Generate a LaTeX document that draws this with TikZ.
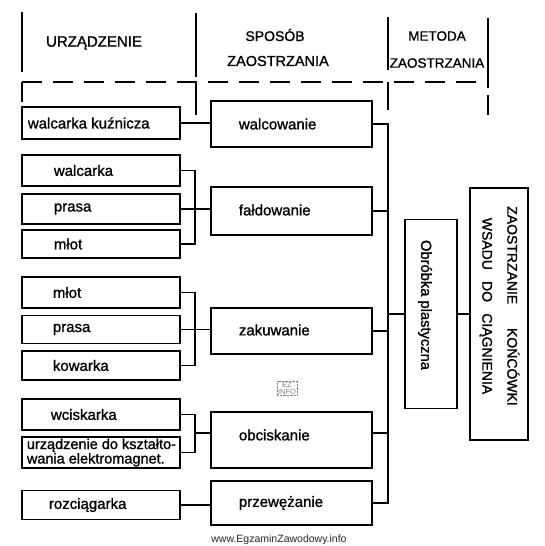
\documentclass[tikz,border=0pt]{standalone}
\usepackage{fontspec}
\setmainfont{Liberation Sans}[FakeBold=1.2]
\newfontfamily\wmfont{Liberation Sans}

\tikzset{
  devbox/.style={draw, minimum width=158pt, inner sep=0pt},
  waybox/.style={draw, minimum width=161pt, inner sep=0pt},
  lbl/.style={anchor=west, inner sep=0pt, align=left, font=\fontsize{15}{14.5}\selectfont},
  hdr/.style={inner sep=0pt, font=\fontsize{14.5}{15}\selectfont},
}

\begin{document}
\begin{tikzpicture}[x=1pt, y=-1pt, line width=1.8pt]

    % Page size of the reference (one unit == one pixel, y grows downwards)
    \useasboundingbox (0,0) rectangle (544,546);

    % Bus x position (where all the ways meet)
    \pgfmathsetmacro{\busx}{388}

    % Draw the header rules
    \foreach \x/\ya/\yb in {22/12/72, 196/13/77, 388/17/70, 488/18/88}{
      \draw (\x,\ya) -- (\x,\yb);
    }
    \draw[dash pattern=on 20pt off 11pt] (22,82) -- (488,82);
    \foreach \x/\ya/\yb in {22/82/102, 196/82/115, 388/82/110, 488/95/115}{
      \draw (\x,\ya) -- (\x,\yb);
    }

    % Write the header texts
    \node[hdr, font=\fontsize{15}{15}\selectfont] (hdev) at (94,43) {URZĄDZENIE};
    \node[hdr, font=\fontsize{14}{15}\selectfont] (hway) at (275,35) {SPOSÓB};
    \node[hdr] (hway2) at (278,61) {ZAOSTRZANIA};
    \node[hdr, font=\fontsize{13.5}{15}\selectfont] (hmeth) at (437,36) {METODA};
    \node[hdr, font=\fontsize{13.5}{15}\selectfont] (hmeth2) at (437,63) {ZAOSTRZANIA};

    % Draw the devices (left column)
    \foreach \n/\yc/\h/\tx/\txt in {1/123/32/27/walcarka kuźnicza,
        2/170.5/31/53/walcarka, 3/209/30/53/prasa, 4/244/28/53/młot,
        5/292.5/31/52/młot, 6/329.5/28/52/prasa, 7/365.5/29/52/kowarka,
        8/414.5/31/50/wciskarka, 10/505/29/48/rozciągarka}{
      \node[devbox, minimum height=\h pt] (dev\n) at (101,\yc) {};
      \node[lbl] (devt\n) at (\tx,\yc) {\txt};
    }
    % The two-line device
    \node[devbox, minimum height=31pt] (dev9) at (101,452.5) {};
    \node[lbl, font=\fontsize{14.5}{14.5}\selectfont] (devt9) at (26,452.5)
      {urządzenie do kształto-\\wania elektromagnet.};

    % Draw the ways of sharpening (middle column)
    \foreach \n/\yc/\h/\ty/\txt in {1/124/46/124/walcowanie,
        2/211/48/210/fałdowanie, 3/331/46/330/zakuwanie,
        4/440/56/435/obciskanie, 5/503/44/503/przewężanie}{
      \node[waybox, minimum height=\h pt] (way\n) at (291.5,\yc) {};
      \node[lbl] (wayt\n) at (238,\ty) {\txt};
    }

    % Connect the devices to their ways
    \draw (dev1.east) -- (dev1.east -| way1.west);
    \draw (dev2.east) -- ++(14,0) |- (dev4.east);
    \draw (dev3.east) -- (dev3.east -| way2.west);
    \draw (dev5.east) -- ++(14,0) |- (dev7.east);
    \draw (dev6.east) -- (dev6.east -| way3.west);
    \draw (dev8.east) -- ++(14,0) |- (dev9.east);
    \coordinate (br4) at (194,433);
    \draw (br4) -- (way4.west |- br4);
    \draw (dev10.east) -- (dev10.east -| way5.west);

    % The bus on the right of the ways
    \coordinate (bustop) at (\busx,124);
    \coordinate (busbot) at (\busx,503);
    \draw (way1.east) -- (bustop) -- (busbot) -- (way5.east);
    \draw (way2.east) -- (way2.east -| bustop);
    \draw (way3.east) -- (way3.east -| bustop);
    \draw (way4.east |- br4) -- (bustop |- br4);

    % Method and goal boxes (text runs downwards)
    \node[draw, minimum width=52pt, minimum height=189pt] (plast) at (431,314) {};
    \node[rotate=-90, inner sep=0pt, font=\fontsize{14.7}{15}\selectfont] (plastt) at (425,305) {Obróbka plastyczna};
    \node[draw, minimum width=58pt, minimum height=252pt] (goal) at (499,314) {};
    \node[rotate=-90, inner sep=0pt, align=center, font=\fontsize{14}{25}\selectfont] (goalt) at (499.5,306)
      {ZAOSTRZANIE\hspace{1.7em}KOŃCÓWKI\\WSADU\hspace{0.8em}DO\hspace{0.8em}CIĄGNIENIA};
    \draw (bustop |- plast) -- (plast.west);
    \draw (plast.east) -- (goal.west);

    % Watermarks
    \node[draw=gray, line width=0.4pt, densely dotted, inner sep=1pt, align=center,
      font=\wmfont\fontsize{7.5}{7}\selectfont, text=gray] (ezlogo) at (287,388) {EZ\\INFO};
    \node[inner sep=0pt, font=\wmfont\fontsize{10.5}{11}\selectfont, text=black!85] (www) at (279,540) {www.EgzaminZawodowy.info};

\end{tikzpicture}
\end{document}
